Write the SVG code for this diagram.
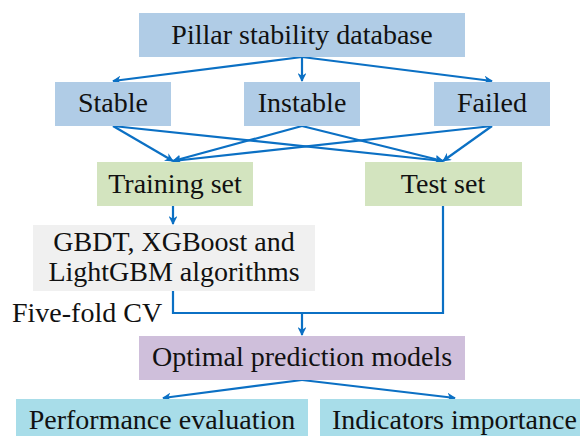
<svg xmlns="http://www.w3.org/2000/svg" width="580" height="436" viewBox="0 0 580 436">
<defs>
<style>
text{font-family:"Liberation Serif",Tinos,"Noto Serif","DejaVu Serif","Times New Roman",Times,serif;font-size:28px;fill:#111;text-anchor:middle}
.b{fill:#b0cce6}.g{fill:#d3e4bf}.gr{fill:#f0f0f0}.p{fill:#cfbfdb}.c{fill:#a8dde9}
.ln{stroke:#0b70c4;stroke-width:2.2;fill:none}
</style>
<marker id="ah" viewBox="0 0 10 10" refX="9" refY="5" markerWidth="4" markerHeight="4" orient="auto" markerUnits="strokeWidth">
<path d="M0,0 L10,5 L0,10 L3,5 z" fill="#0b70c4"/>
</marker>
</defs>
<rect width="580" height="436" fill="#fff"/>
<g id="connectors" class="ln">
<line x1="302" y1="57" x2="113" y2="81" marker-end="url(#ah)"/>
<line x1="302" y1="57" x2="302" y2="81" marker-end="url(#ah)"/>
<line x1="302" y1="57" x2="492" y2="81" marker-end="url(#ah)"/>
<line x1="113" y1="126" x2="173" y2="161" marker-end="url(#ah)"/>
<line x1="113" y1="126" x2="443" y2="161" marker-end="url(#ah)"/>
<line x1="302" y1="126" x2="173" y2="161" marker-end="url(#ah)"/>
<line x1="302" y1="126" x2="443" y2="161" marker-end="url(#ah)"/>
<line x1="492" y1="126" x2="173" y2="161" marker-end="url(#ah)"/>
<line x1="492" y1="126" x2="443" y2="161" marker-end="url(#ah)"/>
<line x1="173" y1="206" x2="173" y2="224" marker-end="url(#ah)"/>
<path d="M173,291 V313 H443 V206"/>
<line x1="302" y1="313" x2="302" y2="335" marker-end="url(#ah)"/>
<line x1="302" y1="380" x2="163" y2="398" marker-end="url(#ah)"/>
<line x1="302" y1="380" x2="455" y2="398" marker-end="url(#ah)"/>
</g>
<g id="database"><rect class="b" x="139" y="13" width="326" height="44"/><text x="302" y="44">Pillar stability database</text></g>
<g id="stable"><rect class="b" x="55" y="82" width="116" height="44"/><text x="113" y="112">Stable</text></g>
<g id="instable"><rect class="b" x="244" y="82" width="116" height="44"/><text x="302" y="112">Instable</text></g>
<g id="failed"><rect class="b" x="434" y="82" width="116" height="44"/><text x="492" y="112">Failed</text></g>
<g id="training"><rect class="g" x="97" y="162" width="156" height="44"/><text x="175" y="193">Training set</text></g>
<g id="test"><rect class="g" x="365" y="162" width="157" height="44"/><text x="443" y="193">Test set</text></g>
<g id="algorithms"><rect class="gr" x="33" y="225" width="282" height="66"/><text x="174" y="251">GBDT, XGBoost and</text><text x="174" y="281">LightGBM algorithms</text></g>
<g id="cv-label"><text x="12" y="322" style="text-anchor:start">Five-fold CV</text></g>
<g id="optimal"><rect class="p" x="139" y="336" width="326" height="44"/><text x="302" y="366">Optimal prediction models</text></g>
<g id="performance"><rect class="c" x="16" y="399" width="292" height="37"/><text x="162" y="429">Performance evaluation</text></g>
<g id="importance"><rect class="c" x="320" y="399" width="260" height="37"/><text x="332" y="429" style="text-anchor:start">Indicators importance</text></g>
</svg>
